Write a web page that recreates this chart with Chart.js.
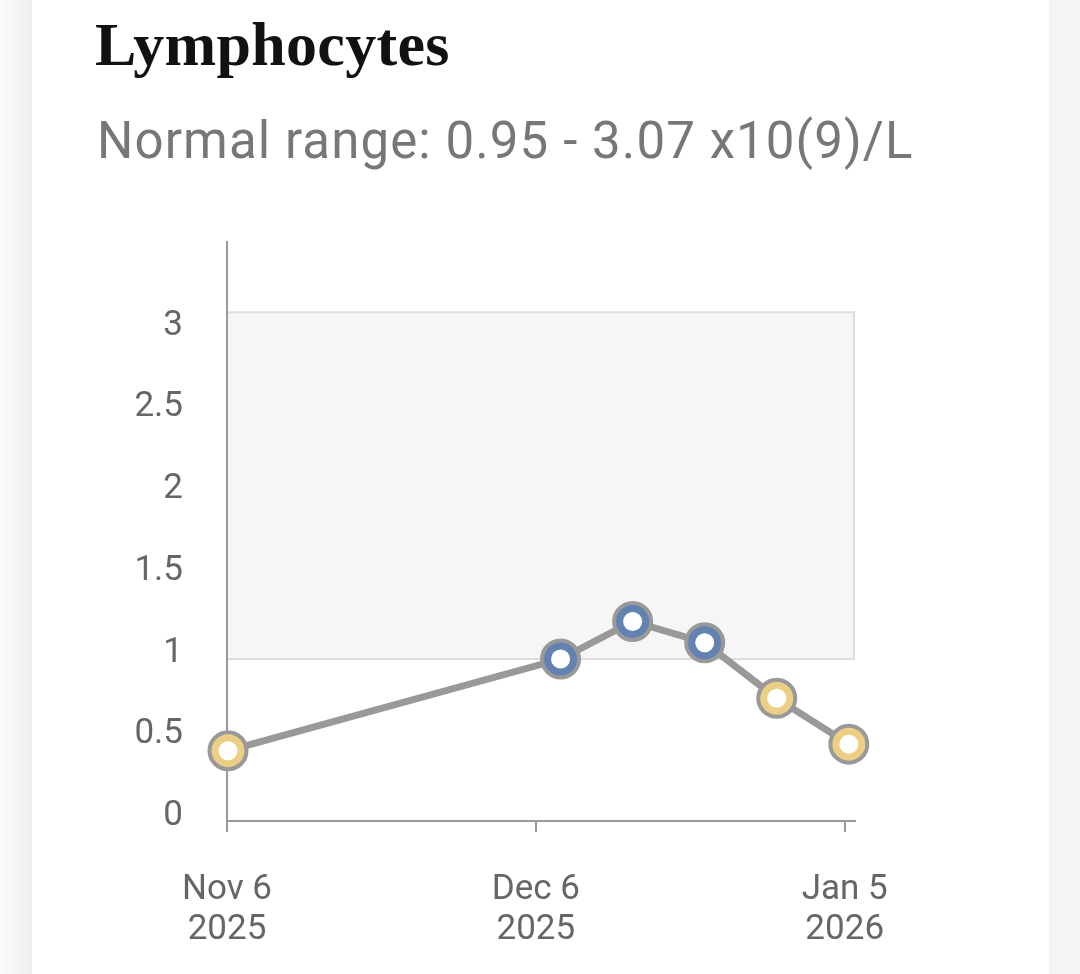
<!DOCTYPE html>
<html>
<head>
<meta charset="utf-8">
<title>Lymphocytes</title>
<script src="https://cdn.jsdelivr.net/npm/chart.js@4.4.1/dist/chart.umd.min.js"></script>
<style>
  html, body { margin: 0; padding: 0; }
  body {
    width: 1080px; height: 974px; overflow: hidden; position: relative;
    background: #f4f4f4;
  }
  #gutter {
    position: absolute; left: 0; top: 0; width: 32px; height: 974px;
    background: linear-gradient(to right, #fbfbfb, #efefef);
  }
  #card {
    position: absolute; left: 32px; top: 0; width: 1017px; height: 974px;
    background: #fff;
  }
  #title {
    position: absolute; left: 95px; top: 13px; margin: 0;
    font: bold 62px/62px "Liberation Serif", serif;
    color: #111; letter-spacing: 0.3px;
  }
  #subtitle {
    position: absolute; left: 97px; top: 115px; margin: 0;
    font: 51px/51px Roboto, sans-serif;
    color: #777; letter-spacing: 1.1px;
  }
  #chart { position: absolute; left: 0; top: 0; }
</style>
</head>
<body>
<div id="gutter"></div>
<div id="card"></div>
<h1 id="title">Lymphocytes</h1>
<p id="subtitle">Normal range: 0.95 - 3.07 x10(9)/L</p>
<canvas id="chart" width="1080" height="974"></canvas>
<script>
// days since Nov 6 2025
var days = [0.1, 32.4, 39.4, 46.4, 53.4, 60.4];
var values = [0.39, 0.95, 1.18, 1.05, 0.71, 0.43];

var rangeLow = 0.95;
var rangeHigh = 3.07;

var xTicks = [0, 30, 60];
var xTickLabels = [['Nov 6', '2025'], ['Dec 6', '2025'], ['Jan 5', '2026']];
var yTicks = [0, 0.5, 1, 1.5, 2, 2.5, 3];

var points = [];
for (var i = 0; i < days.length; i++) {
  points.push({x: days[i], y: values[i]});
}

var pointColors = values.map(function(v) {
  return (v >= rangeLow && v <= rangeHigh) ? '#6282b1' : '#ecce85';
});

var rangeBand = {
  id: 'rangeBand',
  beforeDraw: function(chart) {
    var ctx = chart.ctx;
    var y = chart.scales.y;
    var top = y.getPixelForValue(rangeHigh);
    var bottom = y.getPixelForValue(rangeLow);
    var left = chart.chartArea.left;
    var right = chart.chartArea.right;
    ctx.save();
    ctx.fillStyle = '#f6f6f6';
    ctx.fillRect(left, top, right - left, bottom - top);
    ctx.strokeStyle = '#dcdcdc';
    ctx.lineWidth = 2;
    ctx.strokeRect(left, top, right - left - 1, bottom - top);
    ctx.restore();
  }
};

var ctx = document.getElementById('chart').getContext('2d');
var chart = new Chart(ctx, {
  type: 'line',
  data: {
    datasets: [{
      data: points,
      order: 1,
      borderColor: '#999999',
      borderWidth: 7,
      tension: 0,
      pointRadius: 18.5,
      pointHoverRadius: 18.5,
      pointBorderWidth: 4,
      pointBorderColor: '#999999',
      pointBackgroundColor: pointColors,
      clip: false
    }, {
      data: points,
      order: 0,
      showLine: false,
      pointRadius: 9.5,
      pointHoverRadius: 9.5,
      pointBorderWidth: 0,
      pointBackgroundColor: '#ffffff',
      clip: false
    }]
  },
  options: {
    responsive: false,
    animation: false,
    devicePixelRatio: 1,
    layout: { padding: { left: 0, top: 242, right: 225, bottom: 0 } },
    plugins: {
      legend: { display: false },
      tooltip: { enabled: false }
    },
    scales: {
      x: {
        type: 'linear',
        min: 0,
        max: 61,
        afterFit: function(scale) { scale.height = 153; },
        afterBuildTicks: function(scale) {
          scale.ticks = xTicks.map(function(v) { return {value: v}; });
        },
        grid: { drawOnChartArea: false, drawTicks: true, tickLength: 11, color: '#999999', lineWidth: 2 },
        border: { display: true, color: '#999999', width: 2 },
        ticks: {
          autoSkip: false,
          maxRotation: 0,
          padding: 39,
          color: '#666666',
          font: { family: 'Roboto', size: 35, lineHeight: 1.12 },
          callback: function(value) {
            var idx = xTicks.indexOf(value);
            return idx >= 0 ? xTickLabels[idx] : '';
          }
        }
      },
      y: {
        min: -0.04,
        max: 3.5,
        afterFit: function(scale) { scale.width = 227; },
        afterBuildTicks: function(scale) {
          scale.ticks = yTicks.map(function(v) { return {value: v}; });
        },
        grid: { display: false, drawTicks: false },
        border: { display: true, color: '#999999', width: 2 },
        ticks: {
          padding: 44,
          labelOffset: 2,
          color: '#666666',
          font: { family: 'Roboto', size: 35 },
          callback: function(value) { return String(value); }
        }
      }
    }
  },
  plugins: [rangeBand]
});
</script>
</body>
</html>
